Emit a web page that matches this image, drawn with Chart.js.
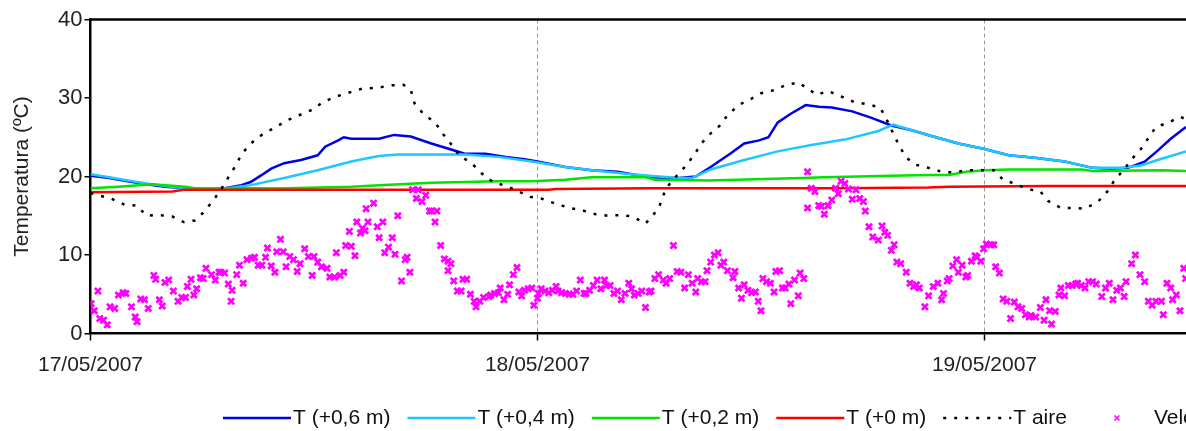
<!DOCTYPE html>
<html>
<head>
<meta charset="utf-8">
<script src="https://cdn.jsdelivr.net/npm/chart.js@4.4.0/dist/chart.umd.min.js"></script>
<style>
html, body { margin: 0; padding: 0; background: #fff; }
#tempChart { display: block; }
</style>
</head>
<body>
<canvas id="tempChart" width="1186" height="431"></canvas>
<script>
/* ====== DATA ====== */
// x axis is hours since 17/05/2007 00:00
const xTickHours = [0, 24, 48];
const xTickLabels = ['17/05/2007', '18/05/2007', '19/05/2007'];
const xMaxHours = 58.82;
const yTicks = [0, 10, 20, 30, 40];

const seriesLabels = ['T (+0,6 m)', 'T (+0,4 m)', 'T (+0,2 m)', 'T (+0 m)', 'T aire', 'Velocidad viento'];

// T (+0,6 m)
const t06Hours = [0, 1, 2, 3, 4, 5.1, 6.5, 7.2, 8.1, 8.6, 9.2, 9.7, 10.4, 11.3, 12.2, 12.6, 13.3, 13.6, 14.0, 15.5,
    16.3, 17.2, 18.3, 19.4, 20.1, 21.2, 22.3, 23.3, 24.0, 25.5, 26.9, 28.3, 30.0, 31.6, 32.5, 33.3, 34.4, 35.1, 35.9, 36.4,
    36.9, 37.6, 38.4, 39.1, 39.8, 40.9, 41.9, 43.0, 44.1, 45.1, 46.6, 48.0, 49.3, 50.7, 52.3, 53.8, 54.8, 55.7, 56.6, 57.3,
    58.0, 58.82];
const t06Temp = [20.1, 19.8, 19.4, 19.0, 18.7, 18.5, 18.5, 18.5, 18.9, 19.3, 20.2, 21.0, 21.7, 22.1, 22.7, 23.8, 24.6, 25.0, 24.8, 24.8,
    25.3, 25.1, 24.2, 23.4, 22.9, 22.9, 22.5, 22.2, 21.9, 21.2, 20.8, 20.6, 19.9, 19.8, 20.0, 21.2, 23.0, 24.2, 24.6, 25.0,
    26.9, 28.0, 29.1, 28.9, 28.8, 28.3, 27.5, 26.5, 25.9, 25.2, 24.2, 23.5, 22.7, 22.4, 21.9, 21.1, 21.0, 21.1, 21.9, 23.3,
    24.8, 26.3];

// T (+0,4 m)
const t04Hours = [0, 1, 2, 3, 4, 5.1, 7.3, 8.6, 10.4, 12.2, 14.0, 15.0, 15.5, 16.5, 18.3, 20.1, 21.9, 23.7, 25.5, 27.3,
    29.0, 30.0, 31.6, 32.3, 33.3, 35.1, 36.9, 38.7, 40.5, 42.3, 43.1, 44.1, 45.1, 46.6, 48.0, 49.3, 50.7, 52.3, 53.8, 55.4,
    56.4, 57.3, 58.82];
const t04Temp = [20.3, 19.9, 19.5, 19.1, 18.8, 18.5, 18.5, 18.9, 19.8, 20.8, 21.9, 22.4, 22.6, 22.8, 22.8, 22.8, 22.5, 21.9, 21.2, 20.7,
    20.3, 20.1, 19.8, 19.8, 20.9, 22.1, 23.2, 24.0, 24.7, 25.8, 26.6, 25.9, 25.2, 24.2, 23.5, 22.7, 22.4, 21.9, 21.1, 21.1,
    21.4, 22.1, 23.2];

// T (+0,2 m)
const t02Hours = [0, 1.5, 3.3, 5.1, 5.6, 10.6, 14.0, 15.5, 18.3, 20.1, 21.9, 23.7, 25.5, 26.9, 29.8, 30.3, 33.2, 38.2, 39.4, 43.0,
    45.0, 46.1, 47.0, 48.0, 49.3, 53.2, 53.8, 57.5, 58.82];
const t02Temp = [18.5, 18.7, 19.0, 18.7, 18.5, 18.5, 18.7, 18.9, 19.2, 19.3, 19.4, 19.4, 19.6, 19.9, 19.9, 19.6, 19.5, 19.8, 19.9, 20.1,
    20.2, 20.2, 20.6, 20.8, 20.9, 20.9, 20.7, 20.8, 20.7];

// T (+0 m)
const t00Hours = [0, 4.4, 5.0, 14.0, 24.6, 25.0, 30.0, 40.0, 45.0, 46.1, 51.4, 58.82];
const t00Temp = [18.0, 18.1, 18.3, 18.3, 18.3, 18.4, 18.5, 18.5, 18.6, 18.7, 18.8, 18.8];

// T aire
const airHours = [0, 0.4, 1.1, 1.85, 2.5, 3.0, 3.6, 4.4, 5.0, 5.6, 6.1, 6.6, 7.0, 7.4, 7.8, 8.1, 8.6, 9.3, 9.9, 10.5,
    11.2, 11.9, 12.5, 13.2, 13.9, 14.6, 15.4, 16.1, 16.8, 17.2, 17.4, 17.9, 18.5, 18.9, 19.4, 19.8, 20.5, 21.0, 21.6, 22.3,
    22.9, 23.6, 24.2, 24.9, 25.7, 26.4, 27.1, 27.8, 28.5, 29.1, 29.8, 30.5, 30.9, 31.4, 31.9, 32.4, 32.8, 33.3, 33.8, 34.2,
    34.8, 35.4, 36.0, 36.7, 37.3, 38.0, 38.5, 39.0, 39.6, 40.3, 41.0, 41.7, 42.4, 42.8, 43.4, 43.8, 44.3, 45.0, 45.7, 46.4,
    47.0, 47.8, 48.5, 49.0, 49.6, 50.3, 51.0, 51.4, 52.1, 52.8, 53.4, 54.1, 54.6, 55.0, 55.5, 55.9, 56.4, 56.8, 57.2, 57.9,
    58.5, 58.82];
const airTemp = [17.9, 17.6, 17.2, 16.4, 16.3, 15.0, 15.1, 14.9, 14.2, 14.4, 15.5, 17.0, 18.3, 19.9, 21.4, 22.8, 24.2, 25.5, 26.2, 27.1,
    27.8, 28.5, 29.5, 30.2, 30.7, 31.2, 31.3, 31.6, 31.7, 31.0, 29.3, 27.9, 26.9, 25.5, 24.0, 22.7, 21.6, 20.4, 19.3, 18.8,
    18.2, 17.4, 17.2, 16.6, 16.0, 15.7, 15.2, 15.0, 15.1, 14.9, 14.0, 15.9, 18.5, 19.9, 21.2, 22.7, 24.2, 25.5, 26.5, 27.8,
    29.1, 29.8, 30.6, 31.0, 31.6, 32.0, 31.2, 30.4, 30.9, 30.2, 29.5, 29.2, 28.8, 27.0, 24.0, 22.4, 21.5, 21.1, 20.6, 20.5,
    20.8, 20.8, 20.8, 19.6, 19.1, 18.4, 18.1, 16.9, 16.0, 16.0, 15.9, 16.8, 18.1, 19.6, 20.9, 22.2, 23.5, 24.9, 26.3, 26.9,
    27.6, 27.3];

// Velocidad viento (scatter)
const windHours = [
    0.03, 0.2, 0.4, 0.5, 0.7, 0.9, 1.05, 1.3, 1.5, 1.75,
    1.9, 2.2, 2.4, 2.5, 2.7, 2.9, 3.1, 3.4, 3.5, 3.7,
    3.85, 4.0, 4.2, 4.45, 4.7, 4.9, 5.1, 5.2, 5.4, 5.55,
    5.7, 5.9, 6.05, 6.2, 6.5, 6.7, 6.9, 7.0, 7.2, 7.4,
    7.55, 7.6, 7.85, 8.0, 8.2, 8.4, 8.65, 8.8, 9.0, 9.2,
    9.4, 9.5, 9.7, 9.9, 10.0, 10.2, 10.35, 10.5, 10.7, 10.9,
    11.1, 11.25, 11.5, 11.7, 11.9, 12.0, 12.2, 12.4, 12.7, 12.85,
    13.1, 13.2, 13.4, 13.6, 13.7, 13.9, 14.0, 14.2, 14.3, 14.5,
    14.6, 14.74, 14.8, 14.9,
    15.2, 15.4, 15.5, 15.7, 15.8, 16.0, 16.2, 16.35, 16.5, 16.7,
    16.9, 17.0, 17.15, 17.3, 17.5, 17.6, 17.8, 18.0, 18.2, 18.3,
    18.5, 18.6, 18.8, 19.0, 19.2, 19.2, 19.35, 19.5, 19.7, 19.9,
    20.0, 20.2, 20.4, 20.6, 20.7, 20.9, 21.1, 21.4, 21.5, 21.7,
    21.9, 22.0, 22.2, 22.4, 22.5, 22.7, 22.9, 23.0, 23.15, 23.3,
    23.5, 23.7, 23.8, 24.0, 24.05, 24.2, 24.4, 24.6, 24.8, 25.0,
    25.1, 25.3, 25.5, 25.7, 25.9, 26.1, 26.3, 26.5, 26.6, 26.8,
    27.0, 27.2, 27.4, 27.6, 27.7, 27.9, 28.1, 28.3, 28.5, 28.7,
    28.9, 29.05, 29.2, 29.4, 29.6, 29.8, 30.0,
    30.1, 30.3, 30.5, 30.75, 30.9, 31.1, 31.3, 31.5, 31.7, 31.9,
    32.1, 32.3, 32.5, 32.6, 32.8, 33.0, 33.1, 33.3, 33.5, 33.7,
    33.85, 34.0, 34.2, 34.5, 34.6, 34.8, 34.95, 35.1, 35.3, 35.5,
    35.7, 35.85, 36.0, 36.1, 36.3, 36.5, 36.7, 36.8, 37.0, 37.15,
    37.3, 37.5, 37.6, 37.8, 38.0, 38.1, 38.3, 38.5, 38.5, 38.7,
    38.9, 39.1, 39.25, 39.4, 39.6, 39.8, 40.0, 40.15, 40.3, 40.5,
    40.7, 40.9, 41.1, 41.3, 41.5, 41.6, 41.8, 42.0, 42.3, 42.5,
    42.65, 42.8, 43.0, 43.15, 43.3, 43.5, 43.8, 44.0, 44.2, 44.35,
    44.5, 44.8, 45.0,
    45.25, 45.5, 45.7, 45.8, 46.0, 46.1, 46.3, 46.5, 46.6, 46.8,
    47.0, 47.1, 47.3, 47.5, 47.6, 47.8, 47.95, 48.1, 48.35, 48.5,
    48.6, 48.8, 49.0, 49.2, 49.4, 49.6, 49.8, 50.0, 50.2, 50.4,
    50.5, 50.75, 51.0, 51.2, 51.3, 51.5, 51.6, 51.8, 52.0, 52.1,
    52.3, 52.5, 52.7, 52.9, 53.0, 53.2, 53.4, 53.6, 53.8, 54.0,
    54.3, 54.5, 54.7, 54.9, 55.1, 55.3, 55.5, 55.6, 55.9, 56.1,
    56.35, 56.6, 56.8, 57.0, 57.2, 57.5, 57.6, 57.8, 58.0, 58.1,
    58.3, 58.5, 58.7, 58.8
];
const windSpeed = [
    3.8, 2.9, 5.4, 1.9, 1.7, 1.1, 3.4, 3.2, 4.9, 5.2,
    5.1, 3.4, 2.1, 1.5, 4.4, 4.3, 3.2, 7.4, 6.9, 4.3,
    3.5, 6.5, 6.8, 5.4, 4.1, 4.6, 4.6, 6.0, 6.9, 4.9,
    5.7, 7.1, 7.0, 8.3, 7.5, 6.8, 7.8, 7.8, 7.7, 6.3,
    4.1, 5.5, 7.5, 8.7, 6.4, 9.4, 9.6, 9.7, 8.7, 8.7,
    9.7, 10.9, 8.6, 7.8, 10.4, 12.0, 10.4, 8.5, 9.8, 9.4,
    7.9, 8.9, 10.8, 9.8, 7.4, 9.8, 9.1, 8.5, 8.3, 7.2,
    7.2, 10.3, 7.4, 7.8, 11.2, 13.0, 11.1, 9.9, 14.2, 12.8,
    13.4, 13.1, 15.9, 14.2,
    16.6, 13.6, 12.2, 14.2, 10.3, 11.0, 12.2, 10.1, 15.0, 6.7,
    9.4, 9.7, 7.8, 18.3, 17.2, 18.3, 16.8, 17.6, 15.6, 15.6,
    14.2, 15.6, 11.2, 9.5, 9.2, 8.0, 8.9, 6.7, 5.4, 5.4,
    6.9, 6.9, 5.0, 4.1, 3.4, 4.1, 4.6, 4.7, 4.9, 5.1,
    5.2, 5.8, 4.3, 5.0, 6.2, 7.5, 8.4, 5.3, 4.8, 5.5,
    5.7, 5.8, 3.6, 4.5, 5.1, 5.7, 5.4, 5.2, 5.5, 6.0,
    5.4, 5.2, 5.1, 5.0, 5.0, 5.4, 6.8, 5.1, 5.1, 5.5,
    6.1, 6.8, 5.7, 6.8, 6.1, 6.1, 5.1, 5.4, 4.3, 5.1,
    6.4, 5.7, 4.9, 5.1, 5.4, 3.3, 5.3,
    5.4, 7.0, 7.5, 6.8, 6.4, 7.0, 11.2, 7.9, 7.8, 5.8,
    7.5, 6.4, 5.3, 7.0, 6.6, 6.6, 8.0, 9.1, 10.0, 10.3,
    8.7, 9.1, 8.0, 7.1, 7.9, 5.8, 4.5, 6.2, 5.5, 5.2,
    5.3, 4.1, 2.9, 7.0, 6.6, 6.4, 5.3, 7.9, 8.0, 5.8,
    5.8, 6.3, 3.8, 6.8, 4.8, 7.7, 7.0, 16.0, 20.6, 18.5,
    18.1, 16.3, 16.2, 15.2, 16.3, 17.0, 18.5, 17.8, 19.4, 19.1,
    18.4, 17.1, 18.3, 17.2, 16.8, 15.6, 13.6, 12.3, 11.9, 13.7,
    12.9, 12.5, 10.6, 11.3, 9.1, 8.9, 7.8, 6.4, 6.0, 6.2,
    5.8, 3.4, 4.8,
    6.0, 6.4, 4.3, 5.1, 6.7, 7.0, 8.6, 9.4, 7.8, 8.7,
    7.2, 7.4, 9.2, 9.9, 9.7, 9.2, 10.8, 11.4, 11.3, 11.3,
    8.5, 7.7, 4.4, 4.1, 1.9, 4.0, 3.4, 3.2, 2.4, 2.1,
    2.3, 2.1, 3.3, 1.7, 4.3, 2.9, 1.2, 2.8, 4.9, 5.8,
    4.8, 6.1, 6.1, 6.3, 6.4, 6.1, 5.8, 6.6, 6.6, 6.3,
    4.7, 5.8, 6.4, 4.3, 5.5, 5.8, 4.7, 6.6, 8.9, 10.0,
    7.5, 6.6, 4.1, 3.6, 4.1, 4.1, 2.4, 6.4, 5.8, 4.3,
    4.9, 2.9, 8.3, 7.0
];

/* ====== SETUP ====== */
const FONT = '"Liberation Sans", Arial, sans-serif';

function toPoints(xs, ys) {
    return xs.map((x, i) => ({ x: x, y: ys[i] }));
}

function lineSet(label, xs, ys, color, order, dash) {
    return {
        label: label,
        data: toPoints(xs, ys),
        showLine: true,
        borderColor: color,
        backgroundColor: color,
        borderWidth: 2.5,
        borderDash: dash || [],
        pointRadius: 0,
        tension: 0,
        order: order
    };
}

/* Legend drawn under the axis, left-aligned like the original */
const bottomLegend = {
    id: 'bottomLegend',
    afterDraw(chart) {
        const c = chart.ctx;
        const y = 418;
        let x = 223;
        c.save();
        c.font = '21px ' + FONT;
        c.textBaseline = 'middle';
        c.textAlign = 'left';
        chart.data.datasets.forEach(ds => {
            c.strokeStyle = ds.borderColor;
            if (ds.showLine) {
                c.lineWidth = ds.borderWidth;
                c.setLineDash(ds.borderDash);
                c.beginPath();
                c.moveTo(x, y);
                c.lineTo(x + 68, y);
                c.stroke();
                c.setLineDash([]);
            } else {
                const cx = x + 33, r = 2.5;
                c.lineWidth = 1.6;
                c.beginPath();
                c.moveTo(cx - r, y - r); c.lineTo(cx + r, y + r);
                c.moveTo(cx + r, y - r); c.lineTo(cx - r, y + r);
                c.stroke();
            }
            c.fillStyle = '#111';
            c.fillText(ds.label, x + 70, y);
            x += 70 + c.measureText(ds.label).width + 17;
        });
        c.restore();
    }
};

/* Top frame line of the plot area */
const topFrame = {
    id: 'topFrame',
    afterDraw(chart) {
        const a = chart.chartArea;
        const c = chart.ctx;
        c.save();
        c.strokeStyle = '#000';
        c.lineWidth = 2.5;
        c.beginPath();
        c.moveTo(a.left, a.top);
        c.lineTo(a.right, a.top);
        c.stroke();
        c.restore();
    }
};

const chart = new Chart(document.getElementById('tempChart'), {
    type: 'scatter',
    data: {
        datasets: [
            lineSet(seriesLabels[0], t06Hours, t06Temp, '#0000e6', 6),
            lineSet(seriesLabels[1], t04Hours, t04Temp, '#1ec8ff', 5),
            lineSet(seriesLabels[2], t02Hours, t02Temp, '#00e400', 4),
            lineSet(seriesLabels[3], t00Hours, t00Temp, '#ff0000', 3),
            lineSet(seriesLabels[4], airHours, airTemp, '#000000', 2, [3, 8]),
            {
                label: seriesLabels[5],
                data: toPoints(windHours, windSpeed),
                showLine: false,
                pointStyle: 'crossRot',
                pointRadius: 4.3,
                pointBorderWidth: 2.7,
                borderColor: '#ff00ff',
                backgroundColor: '#ff00ff',
                order: 1
            }
        ]
    },
    options: {
        responsive: false,
        animation: false,
        events: [],
        layout: { autoPadding: false, padding: { top: 19.5, right: 0, bottom: 0, left: 0 } },
        plugins: {
            legend: { display: false },
            tooltip: { enabled: false }
        },
        scales: {
            x: {
                type: 'linear',
                min: 0,
                max: xMaxHours,
                afterFit: s => { s.height = 97.5; },
                afterBuildTicks: s => { s.ticks = xTickHours.map(v => ({ value: v })); },
                ticks: {
                    color: '#222',
                    font: { family: FONT, size: 21 },
                    padding: 12,
                    maxRotation: 0,
                    callback: (v, i) => xTickLabels[i]
                },
                grid: {
                    color: c => (c.tick && c.tick.value === 0) ? 'rgba(0,0,0,0)' : '#999',
                    lineWidth: 1,
                    tickColor: '#000',
                    tickLength: 7,
                    tickWidth: 1.5
                },
                border: { color: '#000', width: 2.5, dash: [4, 3] }
            },
            y: {
                min: 0,
                max: 40,
                afterFit: s => { s.width = 90.5; },
                afterBuildTicks: s => { s.ticks = yTicks.map(v => ({ value: v })); },
                ticks: {
                    color: '#222',
                    font: { family: FONT, size: 22 },
                    padding: 2
                },
                grid: {
                    drawOnChartArea: false,
                    color: '#000',
                    tickLength: 6,
                    lineWidth: 1.5
                },
                border: { color: '#000', width: 2.5 },
                title: {
                    display: true,
                    text: 'Temperatura (ºC)',
                    color: '#222',
                    font: { family: FONT, size: 21 },
                    padding: { top: 10, bottom: 4 }
                }
            }
        }
    },
    plugins: [topFrame, bottomLegend]
});
</script>
</body>
</html>
